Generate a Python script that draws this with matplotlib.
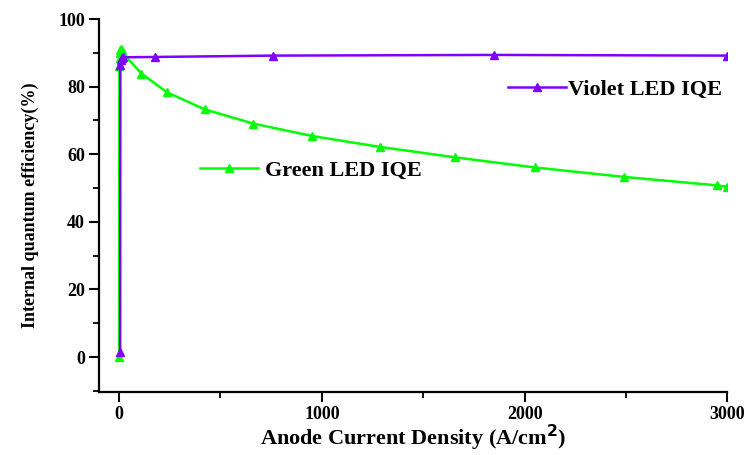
import matplotlib.pyplot as plt
from matplotlib.ticker import MultipleLocator

# anode current density (A/cm^2) and internal quantum efficiency (%)
violet_j = [5, 6, 8, 12, 20, 178, 761, 1849, 3000]
violet_iqe = [1.5, 86.5, 88.0, 88.4, 88.7, 88.8, 89.2, 89.4, 89.2]

green_j = [0, 1, 2, 3, 5, 8, 12, 20, 110, 237, 422, 661, 953, 1285, 1656, 2051, 2491, 2950, 3000]
green_iqe = [0.0, 86.0, 88.5, 90.0, 91.0, 91.3, 90.8, 89.8, 83.9, 78.3, 73.3, 69.1, 65.4,
             62.2, 59.1, 56.1, 53.3, 50.8, 50.4]

violet_color = '#8000ff'
green_color = '#00ff00'

plt.rcParams['font.family'] = ['Liberation Serif', 'DejaVu Serif']
plt.rcParams['font.weight'] = 'bold'

fig = plt.figure(figsize=(7.49, 4.55), dpi=100)
ax = fig.add_axes([0.132, 0.138, 0.839, 0.820])

green_line, = ax.plot(green_j, green_iqe, color=green_color, lw=1.8, marker='^',
                      markersize=6, label='Green LED IQE')
violet_line, = ax.plot(violet_j, violet_iqe, color=violet_color, lw=1.8, marker='^',
                       markersize=6, label='Violet LED IQE')

ax.set_xlim(-100, 3000)
ax.set_ylim(-10.4, 100)
ax.xaxis.set_major_locator(MultipleLocator(1000))
ax.xaxis.set_minor_locator(MultipleLocator(500))
ax.yaxis.set_major_locator(MultipleLocator(20))
ax.yaxis.set_minor_locator(MultipleLocator(10))

for side in ['top', 'right']:
    ax.spines[side].set_visible(False)
for side in ['left', 'bottom']:
    ax.spines[side].set_linewidth(1.6)

ax.tick_params(which='major', direction='out', length=7, width=1.5, labelsize=13, pad=3)
ax.tick_params(which='minor', direction='out', length=4.5, width=1.3)
for lbl in ax.get_xticklabels() + ax.get_yticklabels():
    lbl.set_fontweight('bold')

ax.set_xlabel('Anode Current Density (A/cm$^\\mathbf{2}$)', fontsize=16, fontweight='bold', labelpad=0)
ax.set_ylabel('Internal quantum efficiency(%)', fontsize=13, fontweight='bold', labelpad=14)

leg_v = ax.legend(handles=[violet_line], loc='center left', bbox_to_anchor=(0.62, 0.81),
                  frameon=False, handlelength=2.6, handletextpad=0.1,
                  prop={'weight': 'bold', 'size': 16})
ax.add_artist(leg_v)
ax.legend(handles=[green_line], loc='center left', bbox_to_anchor=(0.129, 0.595),
          frameon=False, handlelength=2.6, handletextpad=0.35,
          prop={'weight': 'bold', 'size': 16})

fig.savefig('out.png', dpi=100)
